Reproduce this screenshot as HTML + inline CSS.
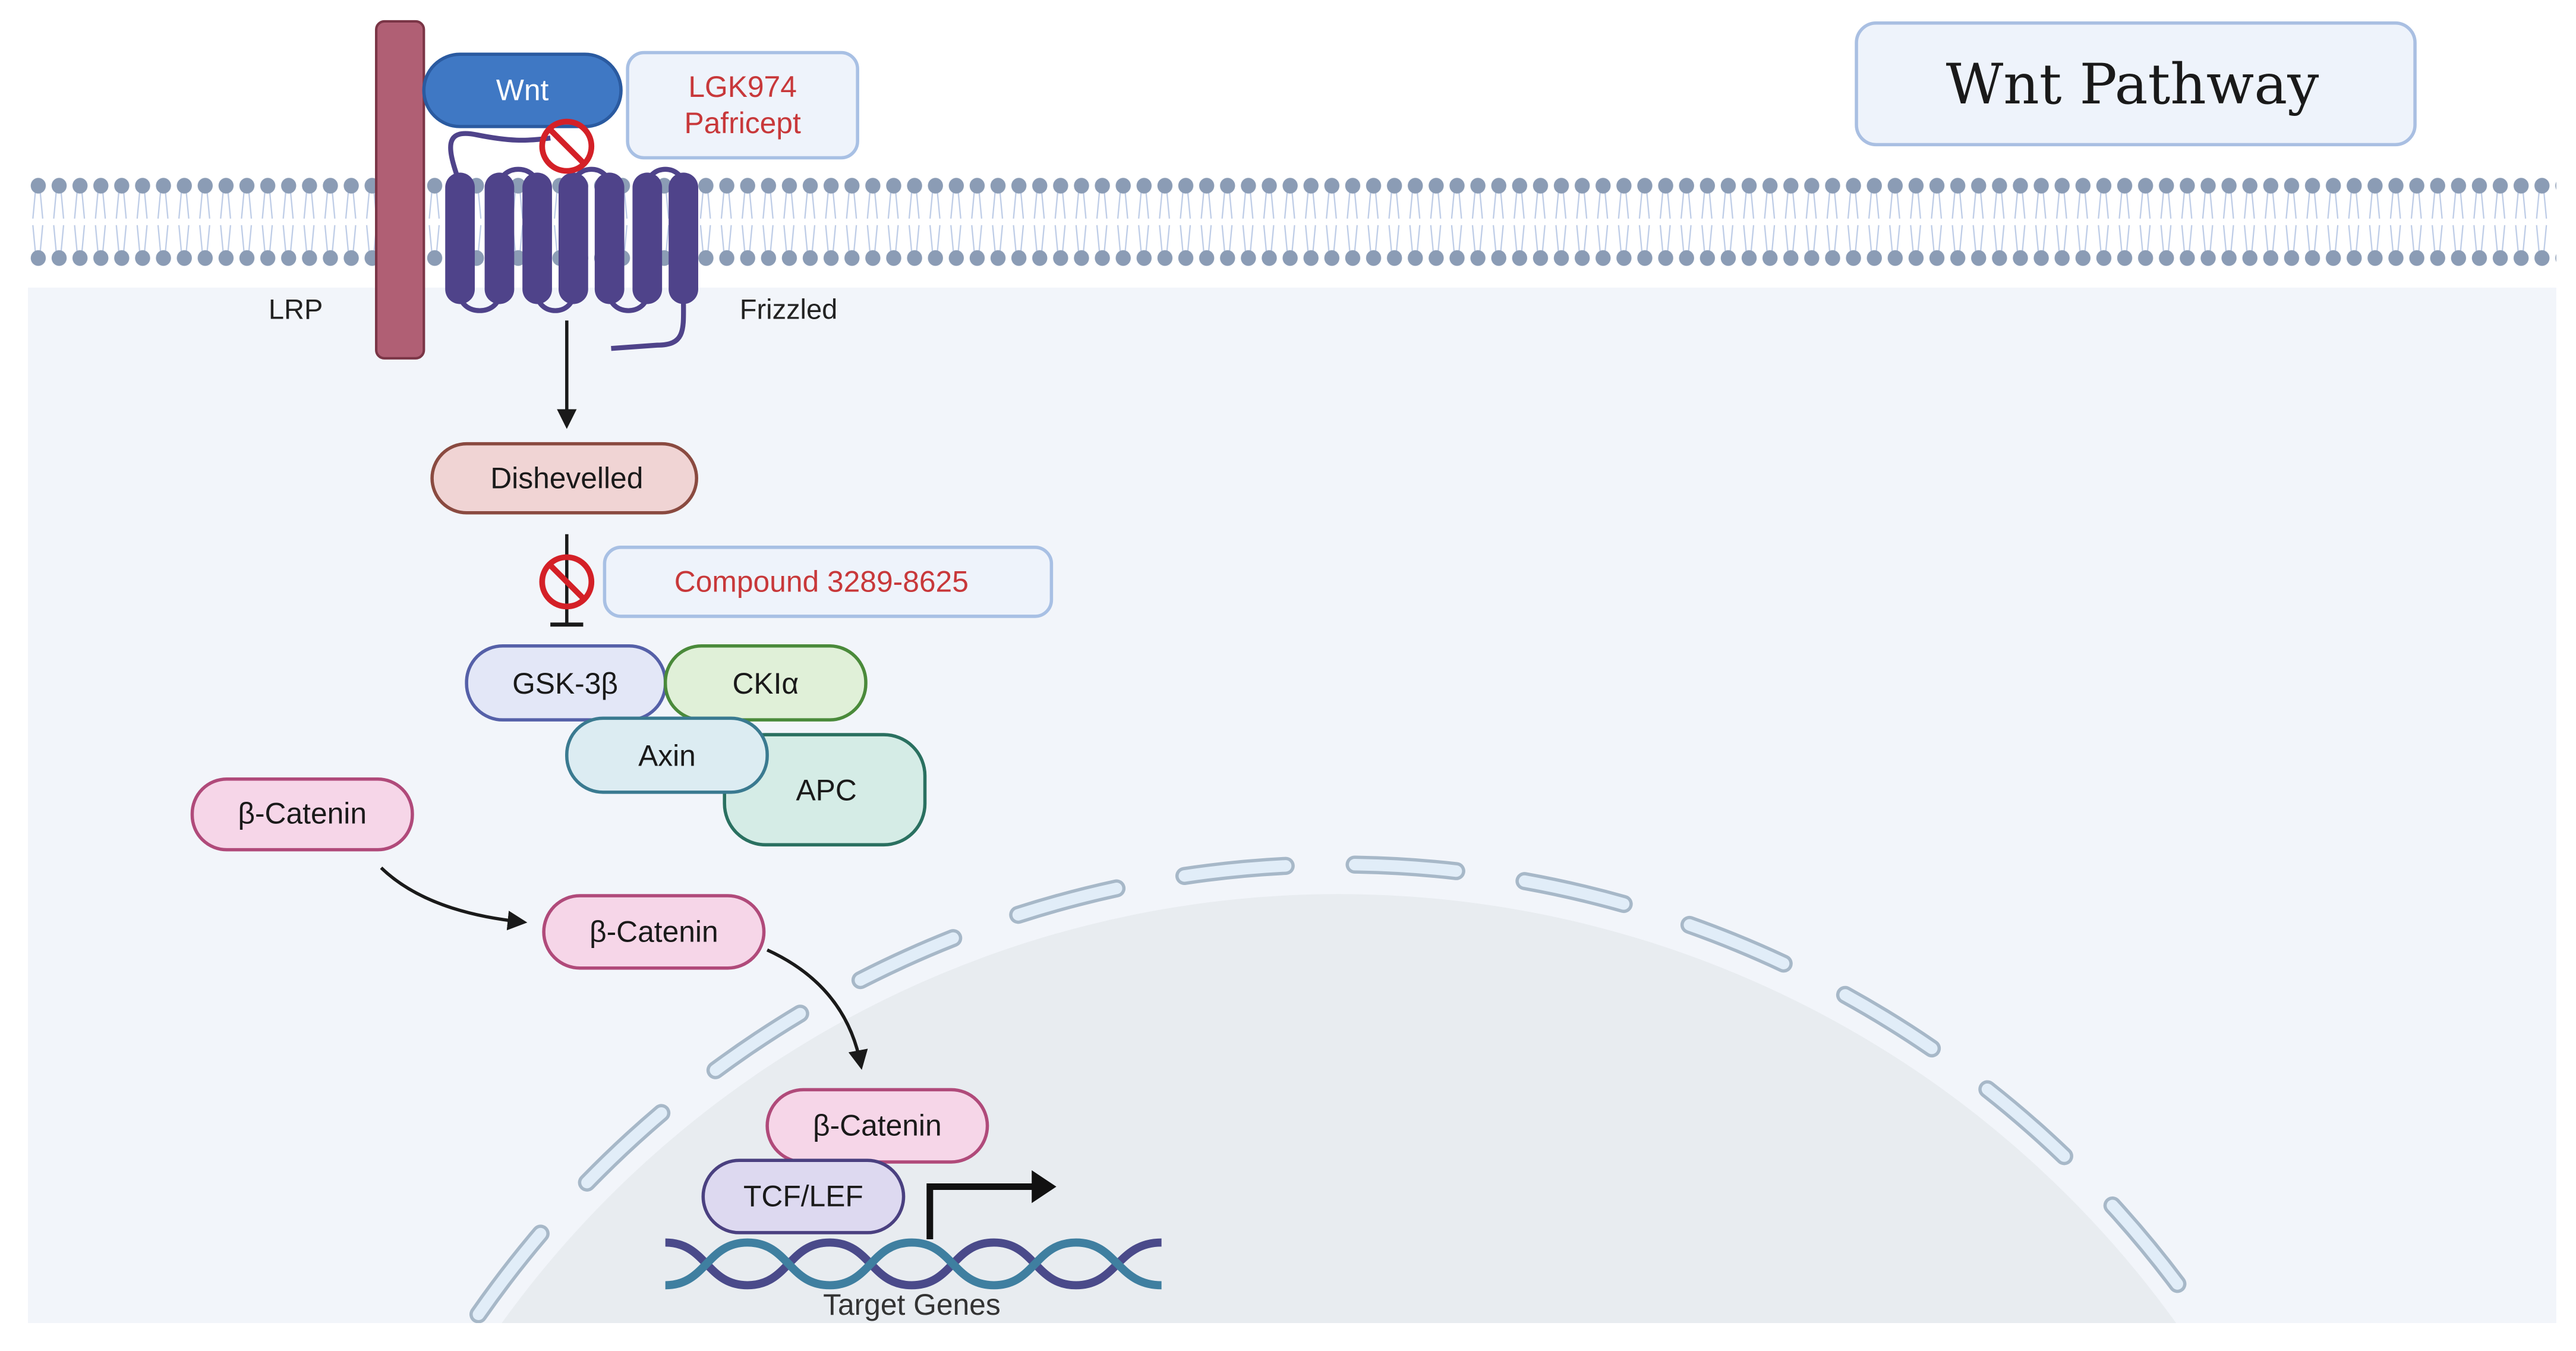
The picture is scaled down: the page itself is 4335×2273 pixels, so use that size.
<!DOCTYPE html>
<html><head><meta charset="utf-8"><style>
html,body{margin:0;padding:0;background:#fff;width:4335px;height:2273px;overflow:hidden}
svg{display:block}
text{font-family:"Liberation Sans",sans-serif}
</style></head><body>
<svg width="4335" height="2273" viewBox="0 0 1568 822" preserveAspectRatio="none" xmlns="http://www.w3.org/2000/svg">
<defs>
<pattern id="mem" x="17" y="105" width="12.7" height="60" patternUnits="userSpaceOnUse">
<path d="M4.5 12 L3 28 M7.5 12 L9 28 M3 32 L4.5 48 M9 32 L7.5 48" stroke="#bccbe6" stroke-width="0.8" fill="none"/>
<ellipse cx="6.3" cy="8" rx="4.6" ry="4.8" fill="#8b9cb5"/>
<ellipse cx="6.3" cy="52" rx="4.6" ry="4.8" fill="#8b9cb5"/>
</pattern>
<marker id="ah" markerWidth="12" markerHeight="12" refX="9" refY="6" orient="auto" markerUnits="userSpaceOnUse" viewBox="0 0 12 12"><path d="M0,0 L12,6 L0,12 z" fill="#1a1a1a"/></marker>
<clipPath id="cc"><rect x="17" y="175" width="1539" height="630"/></clipPath>
</defs>
<rect x="0" y="0" width="1568" height="822" fill="#fff"/>
<rect x="17" y="175" width="1539" height="630" fill="#f2f5fa"/>
<rect x="17" y="105" width="1539" height="60" fill="url(#mem)"/>

<!-- nucleus -->
<g clip-path="url(#cc)">
<circle cx="815" cy="1172" r="628" fill="#e8ecf0"/>
<circle cx="815" cy="1164" r="638" fill="none" stroke="#a7b8c8" stroke-width="11" stroke-dasharray="62 42" stroke-linecap="round"/>
<circle cx="815" cy="1164" r="638" fill="none" stroke="#e1edf8" stroke-width="7" stroke-dasharray="62 42" stroke-linecap="round"/>
</g>

<!-- title -->
<rect x="1130" y="14" width="340" height="74" rx="12" fill="#eef3fb" stroke="#a9bfe2" stroke-width="2"/>
<text x="1298" y="63" font-size="34" text-anchor="middle" fill="#1a1a1a" style="font-family:'DejaVu Serif','Liberation Serif',serif">Wnt Pathway</text>

<!-- LRP -->
<rect x="229" y="13" width="29" height="205" rx="5" fill="#b05f74" stroke="#7a3546" stroke-width="1.5"/>
<text x="180" y="194" font-size="17" text-anchor="middle" fill="#222">LRP</text>

<!-- Frizzled -->
<g fill="none" stroke="#4f438a" stroke-width="3">
<path d="M280 112 C272 90 270 78 290 82 C310 86 320 86 335 84"/>
<path d="M280 180 C282 192 302 192 304 180"/>
<path d="M304 112 C306 100 325 100 327 112"/>
<path d="M327 180 C329 192 347 192 349 180"/>
<path d="M349 112 C351 100 369 100 371 112"/>
<path d="M371 180 C373 192 392 192 394 180"/>
<path d="M394 112 C396 100 414 100 416 112"/>
<path d="M416 180 C416 200 418 210 400 210 L372 212"/>
</g>
<g fill="#4f438a">
<rect x="271" y="105" width="18" height="80" rx="9"/>
<rect x="295" y="105" width="18" height="80" rx="9"/>
<rect x="318" y="105" width="18" height="80" rx="9"/>
<rect x="340" y="105" width="18" height="80" rx="9"/>
<rect x="362" y="105" width="18" height="80" rx="9"/>
<rect x="385" y="105" width="18" height="80" rx="9"/>
<rect x="407" y="105" width="18" height="80" rx="9"/>
</g>
<text x="480" y="194" font-size="17" text-anchor="middle" fill="#222">Frizzled</text>

<!-- Wnt -->
<rect x="258" y="33" width="120" height="44" rx="22" fill="#3f78c4" stroke="#2a5aa0" stroke-width="2"/>
<text x="318" y="61" font-size="18" text-anchor="middle" fill="#fff">Wnt</text>
<rect x="382" y="32" width="140" height="64" rx="10" fill="#eef3fb" stroke="#a8c0e4" stroke-width="2"/>
<text x="452" y="59" font-size="18" text-anchor="middle" fill="#c8383a">LGK974</text>
<text x="452" y="81" font-size="18" text-anchor="middle" fill="#c8383a">Pafricept</text>
<circle cx="345" cy="89" r="15" fill="none" stroke="#d42027" stroke-width="3.5"/>
<line x1="335" y1="79" x2="355" y2="99" stroke="#d42027" stroke-width="3.5"/>

<!-- arrow to Dishevelled -->
<line x1="345" y1="195" x2="345" y2="258" stroke="#1a1a1a" stroke-width="2" marker-end="url(#ah)"/>
<rect x="263" y="270" width="161" height="42" rx="21" fill="#f0d4d4" stroke="#8a4a40" stroke-width="2"/>
<text x="345" y="297" font-size="18" text-anchor="middle" fill="#1a1a1a">Dishevelled</text>

<!-- inhibition -->
<line x1="345" y1="325" x2="345" y2="380" stroke="#1a1a1a" stroke-width="2"/>
<line x1="335" y1="380" x2="355" y2="380" stroke="#1a1a1a" stroke-width="2.5"/>
<circle cx="345" cy="354" r="15" fill="none" stroke="#d42027" stroke-width="3.5"/>
<line x1="335" y1="344" x2="355" y2="364" stroke="#d42027" stroke-width="3.5"/>
<rect x="368" y="333" width="272" height="42" rx="10" fill="#eef3fb" stroke="#a8c0e4" stroke-width="2"/>
<text x="500" y="360" font-size="18" text-anchor="middle" fill="#c8383a">Compound 3289-8625</text>

<!-- destruction complex -->
<rect x="441" y="447" width="122" height="67" rx="25" fill="#d5ece6" stroke="#2a7060" stroke-width="2"/>
<text x="503" y="487" font-size="18" text-anchor="middle" fill="#1a1a1a">APC</text>
<rect x="284" y="393" width="121" height="45" rx="22" fill="#e3e7f7" stroke="#5560a8" stroke-width="2"/>
<text x="344" y="422" font-size="18" text-anchor="middle" fill="#1a1a1a">GSK-3β</text>
<rect x="405" y="393" width="122" height="45" rx="22" fill="#e0f0d8" stroke="#4a8a3a" stroke-width="2"/>
<text x="466" y="422" font-size="18" text-anchor="middle" fill="#1a1a1a">CKIα</text>
<rect x="345" y="437" width="122" height="45" rx="22" fill="#dcecf2" stroke="#3a7a90" stroke-width="2"/>
<text x="406" y="466" font-size="18" text-anchor="middle" fill="#1a1a1a">Axin</text>

<!-- beta-catenin path -->
<rect x="117" y="474" width="134" height="43" rx="21" fill="#f6d6e8" stroke="#b04a7a" stroke-width="2"/>
<text x="184" y="501" font-size="18" text-anchor="middle" fill="#1a1a1a">β-Catenin</text>
<path d="M232 528 Q260 555 318 561" fill="none" stroke="#1a1a1a" stroke-width="2" marker-end="url(#ah)"/>
<rect x="331" y="545" width="134" height="44" rx="22" fill="#f6d6e8" stroke="#b04a7a" stroke-width="2"/>
<text x="398" y="573" font-size="18" text-anchor="middle" fill="#1a1a1a">β-Catenin</text>
<path d="M467 578 Q515 600 524 648" fill="none" stroke="#1a1a1a" stroke-width="2" marker-end="url(#ah)"/>

<!-- DNA -->
<path d="M405 756 C430 756 430 782 455 782 C480 782 480 756 505 756 C530 756 530 782 555 782 C580 782 580 756 605 756 C630 756 630 782 655 782 C680 782 680 756 707 756" fill="none" stroke="#4a4a8a" stroke-width="5"/>
<path d="M405 782 C430 782 430 756 455 756 C480 756 480 782 505 782 C530 782 530 756 555 756 C580 756 580 782 605 782 C630 782 630 756 655 756 C680 756 680 782 707 782" fill="none" stroke="#3f7fa0" stroke-width="5"/>
<text x="555" y="800" font-size="18" text-anchor="middle" fill="#333">Target Genes</text>

<rect x="467" y="663" width="134" height="44" rx="22" fill="#f6d6e8" stroke="#b04a7a" stroke-width="2"/>
<text x="534" y="691" font-size="18" text-anchor="middle" fill="#1a1a1a">β-Catenin</text>
<rect x="428" y="706" width="122" height="44" rx="22" fill="#ddd9f0" stroke="#4a4080" stroke-width="2"/>
<text x="489" y="734" font-size="18" text-anchor="middle" fill="#1a1a1a">TCF/LEF</text>

<path d="M566 754 L566 722 L630 722" fill="none" stroke="#111" stroke-width="4"/>
<path d="M628 712 L643 722 L628 732 z" fill="#111"/>
</svg>
</body></html>
